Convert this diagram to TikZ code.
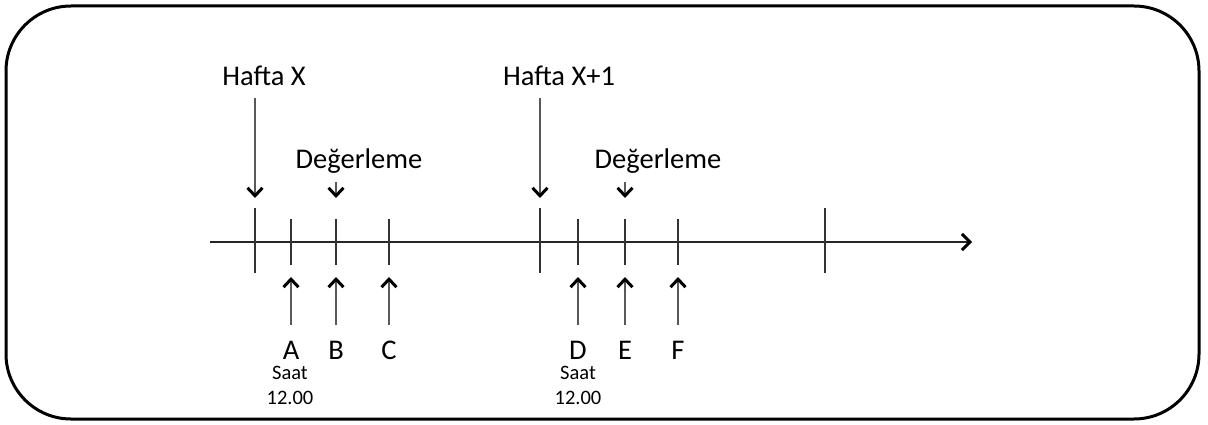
\documentclass[tikz,border=0pt]{standalone}
\usepackage{fontspec}
\setmainfont{Carlito}
\usetikzlibrary{arrows.meta}
\begin{document}
\begin{tikzpicture}[x=1pt,y=-1pt,
  lbl/.style={font=\fontsize{28.5}{32}\selectfont, inner sep=0pt, anchor=base},
  sml/.style={font=\fontsize{20.5}{23}\selectfont, inner sep=0pt, anchor=base},
  tick/.style={line width=1.8pt, draw=black!80},
  arr/.style={line width=2pt, draw=black!65, -{Straight Barb[length=8pt,width=15pt,line width=3pt,color=black]}},
  axis/.style={line width=2pt, draw=black!85, -{Straight Barb[length=8pt,width=16pt,line width=3pt,color=black]}}]
\useasboundingbox (0,0) rectangle (1208,425);
\draw[line width=3pt, rounded corners=65pt] (6,6) rectangle (1199,419);
% axis
\coordinate (ax0) at (210,242);
\coordinate (ax1) at (972,242);
\draw[axis] (ax0) -- (ax1);
% long ticks
\foreach \n/\x in {t0/255, t4/540, t8/825}{
  \coordinate (\n a) at (\x,208); \coordinate (\n b) at (\x,273);
  \draw[tick] (\n a) -- (\n b);
}
% short ticks
\foreach \n/\x in {t1/291, t2/336, t3/389, t5/578, t6/625, t7/678}{
  \coordinate (\n a) at (\x,219); \coordinate (\n b) at (\x,265);
  \draw[tick] (\n a) -- (\n b);
}
% top labels
\node[lbl] (hx) at (264,86) {Hafta X};
\node[lbl] (hx1) at (559,86) {Hafta X+1};
\node[lbl] (d1) at (359,168) {Değerleme};
\node[lbl] (d2) at (658,168) {Değerleme};
% down arrows
\coordinate (hxs) at (255,98);  \coordinate (hxe) at (255,198);
\coordinate (hx1s) at (540,98); \coordinate (hx1e) at (540,198);
\coordinate (d1s) at (336,182); \coordinate (d1e) at (336,198);
\coordinate (d2s) at (625,182); \coordinate (d2e) at (625,198);
\draw[arr] (hxs) -- (hxe);
\draw[arr] (hx1s) -- (hx1e);
\draw[arr] (d1s) -- (d1e);
\draw[arr] (d2s) -- (d2e);
% bottom labels
\node[lbl] (A) at (291,359) {A};
\node[lbl] (B) at (336,359) {B};
\node[lbl] (C) at (389,359) {C};
\node[lbl] (D) at (578,359) {D};
\node[lbl] (E) at (625,359) {E};
\node[lbl] (F) at (678,359) {F};
\node[sml] (sa) at (290,379) {Saat};
\node[sml] (ta) at (290,404) {12.00};
\node[sml] (sd) at (578,379) {Saat};
\node[sml] (td) at (578,404) {12.00};
% up arrows
\foreach \n/\x in {A/291, B/336, C/389, D/578, E/625, F/678}{
  \coordinate (\n s) at (\x,325); \coordinate (\n e) at (\x,277);
  \draw[arr] (\n s) -- (\n e);
}
\end{tikzpicture}
\end{document}
